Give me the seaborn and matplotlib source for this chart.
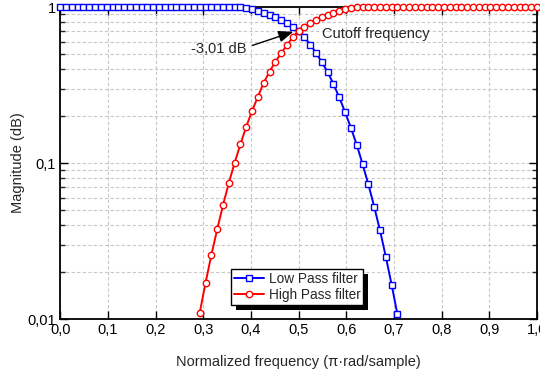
import numpy as np
import pandas as pd
import seaborn as sns
import matplotlib
matplotlib.use("Agg")
import matplotlib.pyplot as plt
from matplotlib.ticker import FixedLocator, FixedFormatter, LogLocator, NullFormatter
from matplotlib.patches import Rectangle
from matplotlib.transforms import IdentityTransform

sns.set_style("ticks")
plt.rcParams["font.family"] = ["Liberation Sans", "DejaVu Sans"]

# Frequency grid (normalized, pi rad/sample)
freq = np.linspace(0.0, 1.0, 83)

# Low-pass magnitude, grid points 0..58
lowpass = [1.0] * 31 + [
    0.998, 0.99, 0.968, 0.945, 0.92, 0.893, 0.862, 0.828, 0.79, 0.75,
    0.707, 0.638, 0.575, 0.508, 0.443, 0.382, 0.321, 0.263, 0.212, 0.168,
    0.131, 0.0985, 0.073, 0.0525, 0.037, 0.0251, 0.0166, 0.0107,
]

# High-pass magnitude, grid points 24..82
highpass = [
    0.011, 0.0171, 0.0257, 0.0376, 0.0538, 0.0744, 0.1004, 0.132, 0.171, 0.216,
    0.266, 0.327, 0.385, 0.446, 0.505, 0.571, 0.639, 0.707,
    0.75, 0.79, 0.828, 0.862, 0.893, 0.92, 0.945, 0.968, 0.99, 0.998,
] + [1.0] * 31

x_ticks = [0.0, 0.1, 0.2, 0.3, 0.4, 0.5, 0.6, 0.7, 0.8, 0.9, 1.0]
x_tick_labels = ["0,0", "0,1", "0,2", "0,3", "0,4", "0,5", "0,6", "0,7", "0,8", "0,9", "1,0"]
y_ticks = [0.01, 0.1, 1.0]
y_tick_labels = ["0,01", "0,1", "1"]

lp_df = pd.DataFrame({"freq": freq[:len(lowpass)], "mag": lowpass})
hp_df = pd.DataFrame({"freq": freq[len(freq) - len(highpass):], "mag": highpass})

fig = plt.figure(figsize=(5.4, 3.75), dpi=100)
ax = fig.add_axes([0.1115, 0.1493, 0.8829, 0.832])
ax.set_yscale("log")

sns.lineplot(data=lp_df, x="freq", y="mag", ax=ax, color="#0000ff", lw=1.4,
             marker="s", markersize=4, markerfacecolor="white",
             markeredgecolor="#0000ff", markeredgewidth=1.0,
             label="Low Pass filter", clip_on=False, zorder=3)
sns.lineplot(data=hp_df, x="freq", y="mag", ax=ax, color="#ff0000", lw=1.4,
             marker="o", markersize=4.6, markerfacecolor="white",
             markeredgecolor="#ff0000", markeredgewidth=1.0,
             label="High Pass filter", clip_on=False, zorder=3)

ax.set_xlim(0, 1)
ax.set_ylim(0.01, 1)

ax.xaxis.set_major_locator(FixedLocator(x_ticks))
ax.xaxis.set_major_formatter(FixedFormatter(x_tick_labels))
ax.yaxis.set_major_locator(FixedLocator(y_ticks))
ax.yaxis.set_major_formatter(FixedFormatter(y_tick_labels))
ax.yaxis.set_minor_locator(LogLocator(base=10, subs=np.arange(2, 10)))
ax.yaxis.set_minor_formatter(NullFormatter())

ax.tick_params(which="major", direction="in", length=6, width=1.0,
               top=True, right=True, labelsize=10.5, pad=3, colors="black")
ax.tick_params(which="minor", direction="in", length=3.5, width=1.0,
               top=False, right=True)

grid_kw = dict(color="#c8c8c8", lw=0.8, ls=(0, (3, 2)))
ax.grid(which="major", axis="x", **grid_kw)
ax.grid(which="both", axis="y", **grid_kw)
ax.set_axisbelow(True)

for s in ax.spines.values():
    s.set_color("black")
    s.set_linewidth(1.3)

ax.set_xlabel("Normalized frequency (π·rad/sample)", fontsize=10.5, labelpad=13)
ax.set_ylabel("Magnitude (dB)", fontsize=10.5, labelpad=2)

ax.annotate("-3,01 dB", xy=(0.489, 0.694), xytext=(0.391, 0.54),
            ha="right", va="center", fontsize=10.5,
            arrowprops=dict(arrowstyle="-|>,head_length=0.9,head_width=0.35",
                            color="black", lw=1.0, relpos=(1.0, 0.6),
                            shrinkA=2, shrinkB=0, mutation_scale=10))
ax.text(0.550, 0.671, "Cutoff frequency", ha="left", va="center", fontsize=10.5)

leg = ax.legend(loc="upper left", bbox_to_anchor=(0.358, 0.160), borderaxespad=0,
                frameon=True, fancybox=False, edgecolor="black", framealpha=1,
                fontsize=9.8, handlelength=2.2, borderpad=0.2, labelspacing=0.15,
                handletextpad=0.4)
leg.get_frame().set_linewidth(1.0)

# Solid drop shadow behind the legend box
fig.canvas.draw()
bb = leg.get_window_extent()
shadow = Rectangle((bb.x0 + 5, bb.y0 - 5), bb.width, bb.height,
                   transform=IdentityTransform(), facecolor="black",
                   edgecolor="none", zorder=4.9, clip_on=False)
ax.add_artist(shadow)

fig.savefig("out.png", dpi=100)
